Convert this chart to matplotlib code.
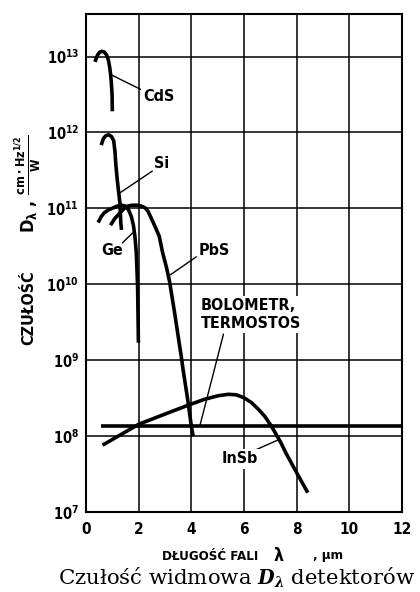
import matplotlib
matplotlib.use('Agg')
import matplotlib.pyplot as plt
from matplotlib.ticker import NullLocator

plt.rcParams['font.family'] = ['DejaVu Sans']
plt.rcParams['font.stretch'] = 'condensed'
plt.rcParams['font.weight'] = 'bold'
plt.rcParams['mathtext.fontset'] = 'custom'
plt.rcParams['mathtext.rm'] = 'DejaVu Sans:bold:stretch=condensed'
plt.rcParams['mathtext.it'] = 'DejaVu Sans:bold:stretch=condensed'
plt.rcParams['mathtext.bf'] = 'DejaVu Sans:bold:stretch=condensed'

# spectral detectivity curves, wavelength in um, D in cm Hz^1/2 / W
cds_x = [0.34, 0.44, 0.52, 0.6, 0.69, 0.78, 0.85, 0.9, 0.93, 0.96, 0.99, 1.0]
cds_d = [8.5e12, 1.05e13, 1.14e13, 1.17e13, 1.15e13, 1.05e13, 9.0e12, 7.2e12,
         6.0e12, 4.6e12, 3.2e12, 1.9e12]

si_x = [0.58, 0.66, 0.76, 0.87, 0.97, 1.05, 1.1, 1.13, 1.18, 1.23, 1.29, 1.32, 1.35]
si_d = [6.8e11, 8.3e11, 9.1e11, 9.3e11, 8.8e11, 7.8e11, 5.6e11, 3.9e11, 2.5e11,
        1.74e11, 1.17e11, 6.5e10, 5.2e10]

ge_x = [0.46, 0.58, 0.69, 0.84, 0.99, 1.18, 1.35, 1.5, 1.62, 1.72, 1.8, 1.86,
        1.91, 1.96, 1.99]
ge_d = [6.5e10, 7.8e10, 8.7e10, 9.5e10, 1.0e11, 1.07e11, 1.1e11, 1.07e11, 9.5e10,
        7.8e10, 6.0e10, 4.2e10, 2.6e10, 9.1e9, 1.7e9]

pbs_x = [0.93, 1.1, 1.29, 1.45, 1.58, 1.76, 1.94, 2.1, 2.24, 2.35, 2.45, 2.6,
         2.78, 2.91, 3.05, 3.17, 3.37, 3.62, 3.69, 3.88, 4.0, 4.07]
pbs_d = [6.0e10, 7.4e10, 8.7e10, 1.0e11, 1.07e11, 1.1e11, 1.1e11, 1.07e11, 1.02e11,
         9.2e10, 7.8e10, 6.0e10, 4.3e10, 2.6e10, 1.7e10, 1.1e10, 4.1e9, 1.1e9,
         7.4e8, 2.75e8, 1.35e8, 1.0e8]

bolo_x = [0.58, 12.0]
bolo_d = [1.35e8, 1.35e8]

insb_x = [0.63, 2.0, 3.0, 3.94, 4.5, 5.02, 5.4, 5.7, 6.0, 6.29, 6.55, 6.8, 7.0,
          7.19, 7.4, 7.59, 8.02, 8.42]
insb_d = [7.6e7, 1.43e8, 1.95e8, 2.6e8, 3.05e8, 3.4e8, 3.55e8, 3.5e8, 3.2e8, 2.75e8,
          2.25e8, 1.8e8, 1.42e8, 1.1e8, 8.2e7, 6.0e7, 3.2e7, 1.8e7]

x_ticks = [0, 2, 4, 6, 8, 10, 12]
y_exps = [7, 8, 9, 10, 11, 12, 13]

fig = plt.figure(figsize=(4.2, 5.92), dpi=100)
ax = fig.add_axes([86 / 420, 1 - 512 / 592, 316 / 420, 498 / 592])

lw = 2.6
for xs, ds in [(cds_x, cds_d), (si_x, si_d), (ge_x, ge_d), (pbs_x, pbs_d),
               (bolo_x, bolo_d), (insb_x, insb_d)]:
    ax.plot(xs, ds, color='black', lw=lw, solid_capstyle='butt',
            solid_joinstyle='round', zorder=3)

ax.set_yscale('log')
ax.set_xlim(0, 12)
ax.set_ylim(1e7, 10 ** 13.56)
ax.set_xticks(x_ticks)
ax.set_xticklabels([str(t) for t in x_ticks], fontsize=11)
ax.set_yticks([10.0 ** e for e in y_exps])
ax.set_yticklabels([r'$10^{%d}$' % e for e in y_exps], fontsize=10.5)
ax.yaxis.set_minor_locator(NullLocator())
ax.tick_params(length=0)
ax.tick_params(axis='x', pad=7)
ax.tick_params(axis='y', pad=5)
ax.grid(True, color='black', lw=1.1)
ax.set_axisbelow(True)
for s in ax.spines.values():
    s.set_linewidth(1.5)

lead = dict(arrowstyle='-', color='black', lw=1.0, shrinkA=0, shrinkB=0)
fs = 11.5
ax.text(2.75, 2.97e12, 'CdS', fontsize=fs, ha='center', va='center')
ax.annotate('', xy=(0.93, 5.8e12), xytext=(2.07, 3.7e12), arrowprops=lead)
ax.text(2.87, 3.9e11, 'Si', fontsize=fs, ha='center', va='center')
ax.annotate('', xy=(1.23, 1.55e11), xytext=(2.52, 3.1e11), arrowprops=lead)
ax.text(0.98, 2.75e10, 'Ge', fontsize=fs, ha='center', va='center')
ax.annotate('', xy=(1.84, 5.0e10), xytext=(1.38, 3.5e10), arrowprops=lead)
ax.text(4.87, 2.75e10, 'PbS', fontsize=fs, ha='center', va='center')
ax.annotate('', xy=(3.16, 1.3e10), xytext=(4.19, 2.3e10), arrowprops=lead)
ax.text(4.37, 4.0e9, 'BOLOMETR,\nTERMOSTOS', fontsize=fs, ha='left', va='center',
        linespacing=1.2, zorder=4,
        bbox=dict(facecolor='white', edgecolor='none', pad=2))
ax.annotate('', xy=(4.32, 1.35e8), xytext=(5.22, 2.2e9), arrowprops=lead)
ax.text(5.84, 5.0e7, 'InSb', fontsize=fs, ha='center', va='center', zorder=4,
        bbox=dict(facecolor='white', edgecolor='none', pad=2))
ax.annotate('', xy=(7.36, 9.1e7), xytext=(6.32, 6.3e7), arrowprops=lead)

fig.text(28 / 420, 1 - 184 / 592,
         r'$D_\lambda$ , $\frac{\mathrm{cm\cdot Hz}^{1/2}}{\mathrm{W}}$',
         rotation=90, fontsize=13, ha='center', va='center')
fig.text(29 / 420, 1 - 308 / 592, 'CZUŁOŚĆ', rotation=90, fontsize=11.5,
         ha='center', va='center')
ly = 1 - 556 / 592
fig.text(162 / 420, ly, 'DŁUGOŚĆ FALI', fontsize=9.5, ha='left', va='center')
fig.text(273 / 420, ly, 'λ', fontsize=12.5, ha='left', va='center')
fig.text(313 / 420, ly, ', µm', fontsize=9.5, ha='left', va='center')
fig.text(237 / 420, 1 - 578 / 592, r'Czułość widmowa $D_\lambda$ detektorów',
         family='DejaVu Serif', math_fontfamily='dejavuserif', weight='normal',
         stretch='normal', fontsize=15.3, ha='center', va='center')

fig.savefig('out.png', dpi=100)
